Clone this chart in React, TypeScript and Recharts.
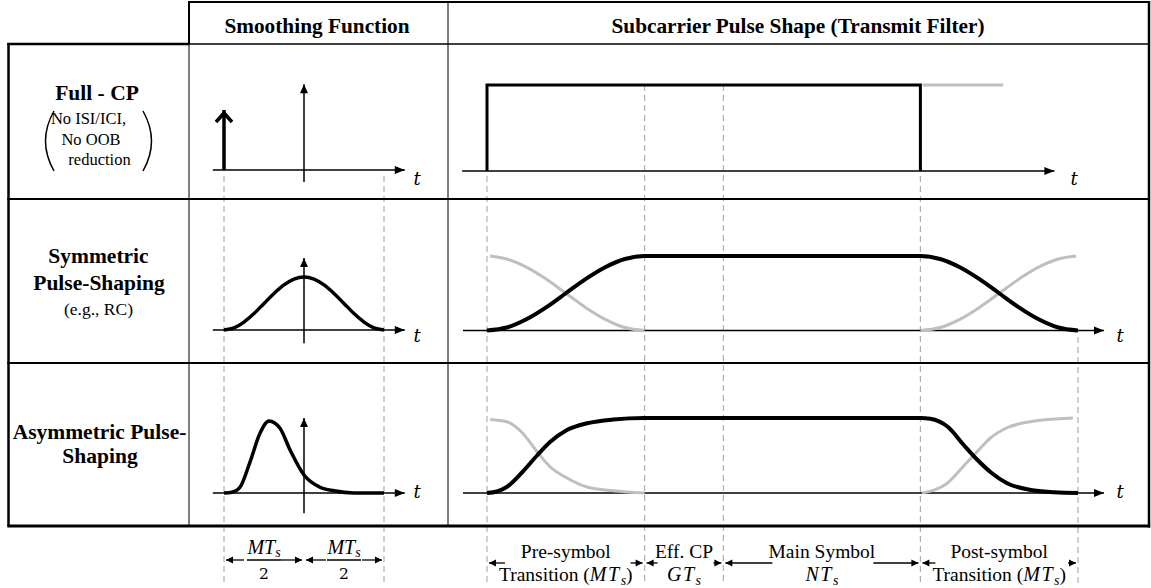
import React from 'react';
import { ComposedChart, Line, Scatter, XAxis, YAxis } from 'recharts';

const SERIF = '"Liberation Serif", "Times New Roman", serif';
const MATH = '"Liberation Serif", "Times New Roman", serif';
const TFONT = '"DejaVu Serif", serif';

const INK = '#000';
const GREY = '#bfbfbf';
const DASH = '#b0b0b0';

// ---- smoothing function column (time in Ts, window -M/2 .. M/2 with M = 4)
const SMOOTH_AXIS_T = [-2.28, 2.52];
const SMOOTH_VAXIS = [[-0.2, 1.43], [-0.25, 1.36], [-0.28, 1.04]];
const IMPULSE_T = [-2, -2];
const IMPULSE_V = [0, 1];
const SMOOTH_SYM_T = [-2, -1.75, -1.5, -1.25, -1, -0.75, -0.5, -0.25, 0, 0.25, 0.5, 0.75, 1, 1.25, 1.5, 1.75, 2];
const SMOOTH_SYM_V = [0, 0.04, 0.15, 0.31, 0.5, 0.69, 0.85, 0.96, 1, 0.96, 0.85, 0.69, 0.5, 0.31, 0.15, 0.04, 0];
const SMOOTH_ASYM_T = [-2, -1.8, -1.6, -1.35, -1.1, -0.875, -0.6, -0.35, 0, 0.4, 0.75, 1.25, 2];
const SMOOTH_ASYM_V = [0, 0.01, 0.08, 0.43, 0.83, 1, 0.9, 0.6, 0.25, 0.08, 0.03, 0, 0];
const SMOOTH_BOUNDS = [-2, 0, 2];

// ---- subcarrier pulse column: 0, M, M+G, M+G+N, 2M+G+N
const PULSE_BOUNDS = [0, 4, 6, 11, 15];
const PULSE_AXIS_T = [[-0.63, 14.4], [-0.61, 15.66], [-0.61, 15.66]];

const RECT_T = [0, 0, 11, 11];
const RECT_V = [0, 1, 1, 0];
const RECT_NEXT_T = [11.06, 13.1];
const RECT_NEXT_V = [1, 1];

const SYM_T = [0, 0.5, 1, 1.5, 2, 2.5, 3, 3.5, 4, 11, 11.5, 12, 12.5, 13, 13.5, 14, 14.5, 15];
const SYM_V = [0, 0.04, 0.15, 0.31, 0.5, 0.69, 0.85, 0.96, 1, 1, 0.96, 0.85, 0.69, 0.5, 0.31, 0.15, 0.04, 0];
const SYM_PREV_T = [0.08, 0.5, 1, 1.5, 2, 2.5, 3, 3.5, 4];
const SYM_PREV_V = [1, 0.96, 0.85, 0.69, 0.5, 0.31, 0.15, 0.04, 0];
const SYM_NEXT_T = [11, 11.5, 12, 12.5, 13, 13.5, 14, 14.5, 14.95];
const SYM_NEXT_V = [0, 0.04, 0.15, 0.31, 0.5, 0.69, 0.85, 0.96, 1];

const ASYM_T = [0, 0.25, 0.5, 0.9, 1.27, 1.6, 2.03, 2.54, 3.2, 4, 11, 11.25, 11.7, 12.1, 12.45, 12.8, 13.2, 13.8, 14.4, 15];
const ASYM_V = [0, 0.02, 0.08, 0.28, 0.5, 0.68, 0.84, 0.93, 0.98, 1, 1, 0.99, 0.88, 0.64, 0.44, 0.27, 0.13, 0.04, 0.01, 0];
const ASYM_PREV_T = [0.08, 0.5, 0.9, 1.27, 1.6, 2.03, 2.54, 3.2, 4];
const ASYM_PREV_V = [0.98, 0.95, 0.8, 0.55, 0.35, 0.2, 0.08, 0.03, 0];
const ASYM_NEXT_T = [11.04, 11.68, 12.08, 12.44, 12.77, 13.2, 13.78, 14.87];
const ASYM_NEXT_V = [0, 0.13, 0.35, 0.55, 0.73, 0.87, 0.95, 1];

// ---- interval annotations under the table
const PULSE_SPAN_TOP = ['Pre-symbol', 'Eff. CP', 'Main Symbol', 'Post-symbol'];
const PULSE_SPAN_PRE = ['Transition (', '', '', 'Transition ('];
const PULSE_SPAN_MATH = ['MT', 'GT', 'NT', 'MT'];
const PULSE_SPAN_POST = [')', '', '', ')'];
const SMOOTH_SPAN_NUM = ['MT', 'MT'];
const SMOOTH_SPAN_DEN = ['2', '2'];

// layout
const SMOOTH_COL = { left: 190, width: 257, ox: 304, sx: 40 };
const PULSE_COL = { left: 449, width: 699, ox: 487, sx: 39.4 };
const ROWS = [
  { top: 46, height: 152 },
  { top: 201, height: 161 },
  { top: 365, height: 160 },
];
const SMOOTH_Y = [{ oy: 170, sy: 60 }, { oy: 330, sy: 53 }, { oy: 493, sy: 72 }];
const PULSE_Y = [{ oy: 171, sy: 86 }, { oy: 330.5, sy: 74.5 }, { oy: 493, sy: 75 }];
const SMOOTH_GUIDE_TOP = [176, 176];
const PULSE_GUIDE_TOP = [176, 85, 85, 176, 337];
const GUIDE_BOTTOM = 584;
const SMOOTH_STUBS = [[18, 21], [20, 20]];
const PULSE_STUBS = [[16, 12], [11, 8], [47, 45], [13, 8]];

type Pt = { t: number; v: number };
type Dir = 'left' | 'right' | 'up';
type Series = {
  data: Pt[]; color: string; width: number; curve?: 'monotone' | 'linear';
  arrow?: Dir; len?: number; half?: number; chevron?: boolean;
};

const pts = (ts: number[], vs: number[]): Pt[] => ts.map((t, i) => ({ t, v: vs[i] }));

function arrowHead(n: number, dir: Dir, len = 10, half = 4, chevron = false) {
  return (p: any) => {
    const key = `ah-${p.index}`;
    if (p.index !== n - 1 || p.cx == null || p.cy == null) return <g key={key} />;
    const { cx, cy } = p;
    if (chevron) {
      return (
        <polyline key={key} points={`${cx - half},${cy + len} ${cx},${cy + 3} ${cx + half},${cy + len}`}
          fill="none" stroke={INK} strokeWidth={3.5} />
      );
    }
    let s = '';
    if (dir === 'right') s = `${cx},${cy} ${cx - len},${cy - half} ${cx - len},${cy + half}`;
    else if (dir === 'left') s = `${cx},${cy} ${cx + len},${cy - half} ${cx + len},${cy + half}`;
    else s = `${cx},${cy} ${cx - half},${cy + len} ${cx + half},${cy + len}`;
    return <polygon key={key} points={s} fill={INK} />;
  };
}

function Panel({ col, row, y, series }: { col: typeof SMOOTH_COL; row: { top: number; height: number }; y: { oy: number; sy: number }; series: Series[] }) {
  const xd = [(col.left - col.ox) / col.sx, (col.left + col.width - col.ox) / col.sx];
  const yd = [(y.oy - row.top - row.height) / y.sy, (y.oy - row.top) / y.sy];
  return (
    <div style={{ position: 'absolute', left: col.left, top: row.top }}>
      <ComposedChart width={col.width} height={row.height} margin={{ top: 0, right: 0, bottom: 0, left: 0 }}>
        <XAxis type="number" dataKey="t" domain={xd} allowDataOverflow hide />
        <YAxis type="number" dataKey="v" domain={yd} allowDataOverflow hide />
        {series.map((s, i) => (
          <Line key={i} data={s.data} dataKey="v" type={s.curve ?? 'monotone'}
            stroke={s.color} strokeWidth={s.width} strokeLinejoin="miter" strokeLinecap="butt"
            dot={s.arrow ? arrowHead(s.data.length, s.arrow, s.len, s.half, s.chevron) : false}
            activeDot={false} isAnimationActive={false} />
        ))}
      </ComposedChart>
    </div>
  );
}

function SpanLabel(p: any) {
  const { cx, cy, payload: d } = p;
  if (cx == null) return <g />;
  if (d.kind === 'frac') {
    return (
      <g>
        <text x={cx} y={cy - 6} textAnchor="middle" fontFamily={MATH} fontStyle="italic" fontSize={20}>
          {d.num}<tspan fontSize={14} dy={3}>s</tspan>
        </text>
        <line x1={cx - 17} x2={cx + 17} y1={cy} y2={cy} stroke={INK} strokeWidth={1.5} />
        <text x={cx} y={cy + 19} textAnchor="middle" fontFamily={TFONT} fontSize={15.5}>{d.den}</text>
      </g>
    );
  }
  return (
    <g fontFamily={SERIF} fontSize={19.5} textAnchor="middle">
      <text x={cx} y={cy - 5}>{d.top}</text>
      <text x={cx} y={cy + 18}>
        {d.pre}
        <tspan fontFamily={MATH} fontStyle="italic" fontSize={20} letterSpacing={1.5}>{d.math}</tspan>
        <tspan fontFamily={MATH} fontStyle="italic" fontSize={14} dy={4}>s</tspan>
        <tspan dy={-4}>{d.post}</tspan>
      </text>
    </g>
  );
}

function ColumnOverlay({ col, guides, guideTop, bounds, stubs, arrowY, labels }: any) {
  const xd = [(col.left - col.ox) / col.sx, (col.left + col.width - col.ox) / col.sx];
  const inset = 2 / col.sx;
  const stubLines: { dir: Dir; data: { t: number; y: number }[] }[] = [];
  for (let i = 0; i < bounds.length - 1; i++) {
    const a = bounds[i];
    const b = bounds[i + 1];
    stubLines.push({ dir: 'left', data: [{ t: a + inset + stubs[i][0] / col.sx, y: arrowY }, { t: a + inset, y: arrowY }] });
    stubLines.push({ dir: 'right', data: [{ t: b - inset - stubs[i][1] / col.sx, y: arrowY }, { t: b - inset, y: arrowY }] });
  }
  const labelData = labels.map((l: any, i: number) => ({ ...l, t: (bounds[i] + bounds[i + 1]) / 2, y: arrowY }));
  return (
    <div style={{ position: 'absolute', left: col.left, top: 0 }}>
      <ComposedChart width={col.width} height={588} margin={{ top: 0, right: 0, bottom: 0, left: 0 }}>
        <XAxis type="number" dataKey="t" domain={xd} allowDataOverflow hide />
        <YAxis type="number" dataKey="y" domain={[0, 588]} reversed allowDataOverflow hide />
        {guides.map((t: number, i: number) => (
          <Line key={`g${i}`} data={[{ t, y: guideTop[i] }, { t, y: GUIDE_BOTTOM }]} dataKey="y" type="linear"
            stroke={DASH} strokeWidth={1.2} strokeDasharray="6 4" dot={false} activeDot={false} isAnimationActive={false} />
        ))}
        {stubLines.map((s, i) => (
          <Line key={`s${i}`} data={s.data} dataKey="y" type="linear" stroke={INK} strokeWidth={1.3}
            dot={arrowHead(2, s.dir, 7, 3.5)} activeDot={false} isAnimationActive={false} />
        ))}
        <Scatter data={labelData} dataKey="y" isAnimationActive={false} shape={(p: any) => <SpanLabel {...p} />} />
      </ComposedChart>
    </div>
  );
}

function Grid() {
  const L = 8.5, R = 1149, C1 = 189, C2 = 448, T = 2, H = 44, R1 = 199, R2 = 363, B = 526;
  return (
    <svg width={1151} height={588} style={{ position: 'absolute', left: 0, top: 0 }}>
      <g stroke={INK} fill="none">
        <line x1={C1 - 1} y1={T} x2={R} y2={T} strokeWidth={2} />
        <line x1={C1} y1={T - 1} x2={C1} y2={H} strokeWidth={2} />
        <line x1={C1} y1={H} x2={C1} y2={B} strokeWidth={1} />
        <line x1={C2} y1={T} x2={C2} y2={B} strokeWidth={1} />
        <line x1={L - 1.2} y1={H} x2={C1} y2={H} strokeWidth={2.5} />
        <line x1={C1} y1={H} x2={R} y2={H} strokeWidth={1.5} />
        <line x1={L} y1={H - 1} x2={L} y2={B} strokeWidth={2.5} />
        <line x1={R} y1={T - 1} x2={R} y2={B + 1.5} strokeWidth={2.5} />
        <line x1={L - 1.2} y1={R1} x2={R} y2={R1} strokeWidth={2} />
        <line x1={L - 1.2} y1={R2} x2={R} y2={R2} strokeWidth={2} />
        <line x1={L - 1.2} y1={B} x2={R + 1.2} y2={B} strokeWidth={3} />
      </g>
    </svg>
  );
}

function Texts() {
  return (
    <svg width={1151} height={588} style={{ position: 'absolute', left: 0, top: 0 }}>
      <g fontFamily={SERIF} fontWeight="bold" fontSize={21.3} textAnchor="middle">
        <text x={317} y={33}>Smoothing Function</text>
        <text x={798} y={33}>Subcarrier Pulse Shape (Transmit Filter)</text>
      </g>
      <g fontFamily={SERIF} fontWeight="bold" fontSize={21.5} textAnchor="middle">
        <text x={97} y={100}>Full - CP</text>
        <text x={98.5} y={263}>Symmetric</text>
        <text x={99} y={290}>Pulse-Shaping</text>
        <text x={99.5} y={439}>Asymmetric Pulse-</text>
        <text x={100} y={463}>Shaping</text>
      </g>
      <g fontFamily={SERIF} fontSize={16.5} textAnchor="middle">
        <text x={88.5} y={124}>No ISI/ICI,</text>
        <text x={91} y={145}>No OOB</text>
        <text x={99.5} y={165}>reduction</text>
        <text x={98.5} y={315} fontSize={17.5}>(e.g., RC)</text>
      </g>
      <g stroke={INK} fill="none" strokeWidth={1.5}>
        <path d="M54 111 Q37 141 54 171" />
        <path d="M143 111 Q160 141 143 171" />
      </g>
      <g fontFamily={TFONT} fontStyle="italic" fontSize={18} textAnchor="middle">
        <text x={417} y={185}>t</text>
        <text x={417} y={342}>t</text>
        <text x={417} y={498}>t</text>
        <text x={1074} y={185}>t</text>
        <text x={1120} y={342}>t</text>
        <text x={1120} y={498}>t</text>
      </g>
    </svg>
  );
}

const hAxis = (ts: number[]): Series => ({ data: pts(ts, [0, 0]), color: INK, width: 1.5, curve: 'linear', arrow: 'right', len: 10, half: 4 });
const vAxis = (vs: number[]): Series => ({ data: pts([0, 0], vs), color: INK, width: 1.5, curve: 'linear', arrow: 'up', len: 9, half: 4 });

export default function App() {
  const smoothSeries: Series[][] = [
    [hAxis(SMOOTH_AXIS_T), vAxis(SMOOTH_VAXIS[0]),
      { data: pts(IMPULSE_T, IMPULSE_V), color: INK, width: 3.5, curve: 'linear', arrow: 'up', len: 12, half: 8, chevron: true }],
    [hAxis(SMOOTH_AXIS_T), vAxis(SMOOTH_VAXIS[1]), { data: pts(SMOOTH_SYM_T, SMOOTH_SYM_V), color: INK, width: 3.5 }],
    [hAxis(SMOOTH_AXIS_T), vAxis(SMOOTH_VAXIS[2]), { data: pts(SMOOTH_ASYM_T, SMOOTH_ASYM_V), color: INK, width: 3.5 }],
  ];
  const pulseSeries: Series[][] = [
    [hAxis(PULSE_AXIS_T[0]),
      { data: pts(RECT_NEXT_T, RECT_NEXT_V), color: GREY, width: 3, curve: 'linear' },
      { data: pts(RECT_T, RECT_V), color: INK, width: 3, curve: 'linear' }],
    [hAxis(PULSE_AXIS_T[1]),
      { data: pts(SYM_PREV_T, SYM_PREV_V), color: GREY, width: 3 },
      { data: pts(SYM_NEXT_T, SYM_NEXT_V), color: GREY, width: 3 },
      { data: pts(SYM_T, SYM_V), color: INK, width: 4 }],
    [hAxis(PULSE_AXIS_T[2]),
      { data: pts(ASYM_PREV_T, ASYM_PREV_V), color: GREY, width: 3 },
      { data: pts(ASYM_NEXT_T, ASYM_NEXT_V), color: GREY, width: 3 },
      { data: pts(ASYM_T, ASYM_V), color: INK, width: 4 }],
  ];
  const pulseLabels = PULSE_SPAN_TOP.map((top, i) => ({
    kind: 'span', top, pre: PULSE_SPAN_PRE[i], math: PULSE_SPAN_MATH[i], post: PULSE_SPAN_POST[i],
  }));
  const smoothLabels = SMOOTH_SPAN_NUM.map((num, i) => ({ kind: 'frac', num, den: SMOOTH_SPAN_DEN[i] }));

  return (
    <div style={{ position: 'absolute', left: 0, top: 0, width: 1151, height: 588, background: '#fff', overflow: 'hidden' }}>
      <ColumnOverlay col={SMOOTH_COL} guides={[SMOOTH_BOUNDS[0], SMOOTH_BOUNDS[2]]} guideTop={SMOOTH_GUIDE_TOP}
        bounds={SMOOTH_BOUNDS} stubs={SMOOTH_STUBS} arrowY={560} labels={smoothLabels} />
      <ColumnOverlay col={PULSE_COL} guides={PULSE_BOUNDS} guideTop={PULSE_GUIDE_TOP}
        bounds={PULSE_BOUNDS} stubs={PULSE_STUBS} arrowY={563} labels={pulseLabels} />
      <Grid />
      {ROWS.map((row, i) => (
        <Panel key={`s${i}`} col={SMOOTH_COL} row={row} y={SMOOTH_Y[i]} series={smoothSeries[i]} />
      ))}
      {ROWS.map((row, i) => (
        <Panel key={`p${i}`} col={PULSE_COL} row={row} y={PULSE_Y[i]} series={pulseSeries[i]} />
      ))}
      <Texts />
    </div>
  );
}
